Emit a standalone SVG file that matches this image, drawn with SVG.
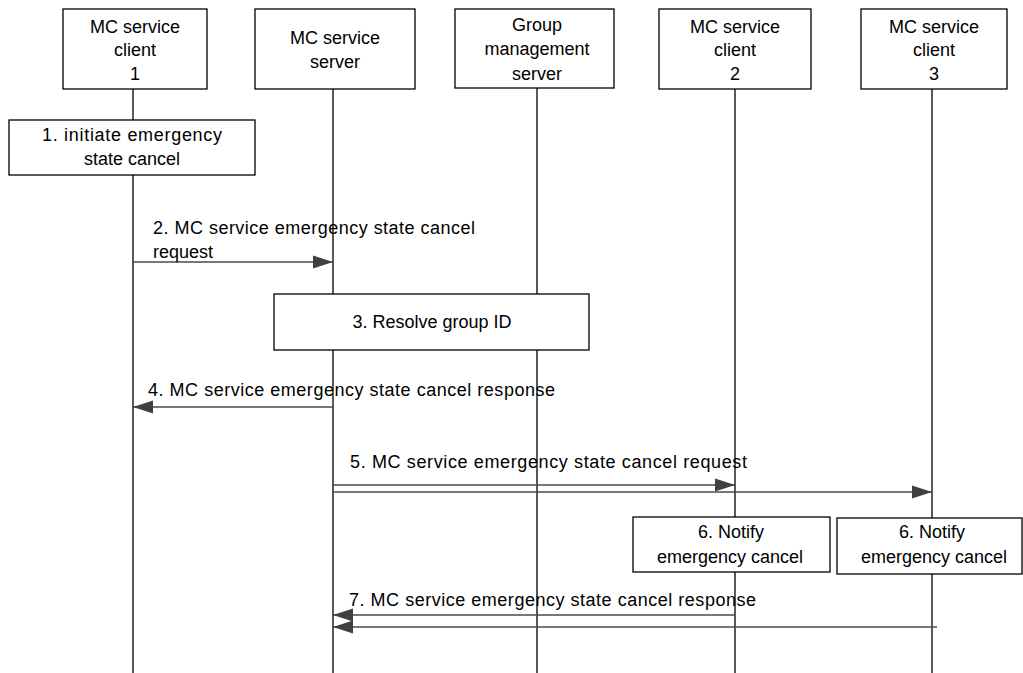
<svg xmlns="http://www.w3.org/2000/svg" width="1023" height="673" viewBox="0 0 1023 673">
<style>
.box{fill:#fff;stroke:#000;stroke-width:1.3}
.life{stroke:#000;stroke-width:1.3;fill:none}
.msg{stroke:#4a4a4a;stroke-width:1.4;fill:none}
.t{font-family:"Liberation Sans",Arial,sans-serif;font-size:18px;fill:#000}
.c{text-anchor:middle}
</style>
<defs>
<marker id="ah" markerUnits="userSpaceOnUse" markerWidth="21" markerHeight="14" refX="20" refY="7" orient="auto">
<path d="M0,0.5 L20,7 L0,13.5 z" fill="#404040"/>
</marker>
</defs>
<rect width="1023" height="673" fill="#fff"/>
<g id="lifelines">
<line class="life" x1="133" y1="89" x2="133" y2="673"/>
<line class="life" x1="333" y1="89" x2="333" y2="673"/>
<line class="life" x1="537" y1="88" x2="537" y2="673"/>
<line class="life" x1="735" y1="89" x2="735" y2="673"/>
<line class="life" x1="932" y1="89" x2="932" y2="673"/>
</g>
<g id="client1">
<rect class="box" x="63" y="9" width="144" height="80"/>
<text class="t c" x="135" y="33">MC service</text>
<text class="t c" x="135" y="56">client</text>
<text class="t c" x="135" y="80">1</text>
</g>
<g id="server">
<rect class="box" x="255" y="9" width="160" height="80"/>
<text class="t c" x="335" y="44">MC service</text>
<text class="t c" x="335" y="68">server</text>
</g>
<g id="gms">
<rect class="box" x="455" y="9" width="159" height="79"/>
<text class="t c" x="537" y="31">Group</text>
<text class="t c" x="537" y="55">management</text>
<text class="t c" x="537" y="80">server</text>
</g>
<g id="client2">
<rect class="box" x="659" y="9" width="152" height="80"/>
<text class="t c" x="735" y="33">MC service</text>
<text class="t c" x="735" y="56">client</text>
<text class="t c" x="735" y="80">2</text>
</g>
<g id="client3">
<rect class="box" x="861" y="9" width="146" height="80"/>
<text class="t c" x="934" y="33">MC service</text>
<text class="t c" x="934" y="56">client</text>
<text class="t c" x="934" y="80">3</text>
</g>
<g id="step1">
<rect class="box" x="9" y="120" width="246" height="55"/>
<text class="t c" x="132" y="141" textLength="180">1. initiate emergency</text>
<text class="t c" x="132" y="165">state cancel</text>
</g>
<g id="step3">
<rect class="box" x="274" y="294" width="315" height="56"/>
<text class="t c" x="432" y="328">3. Resolve group ID</text>
</g>
<g id="step6a">
<rect class="box" x="633" y="517" width="197" height="55"/>
<text class="t c" x="731" y="538">6. Notify</text>
<text class="t c" x="730" y="563">emergency cancel</text>
</g>
<g id="step6b">
<rect class="box" x="837" y="518" width="185" height="56"/>
<text class="t c" x="932" y="538">6. Notify</text>
<text class="t c" x="934" y="563">emergency cancel</text>
</g>
<g id="connectors">
<line class="msg" x1="133" y1="262" x2="333" y2="262" marker-end="url(#ah)"/>
<line class="msg" x1="333" y1="407" x2="133" y2="407" marker-end="url(#ah)"/>
<line class="msg" x1="333" y1="485" x2="735" y2="485" marker-end="url(#ah)"/>
<line class="msg" x1="333" y1="492" x2="932" y2="492" marker-end="url(#ah)"/>
<line class="msg" x1="735" y1="615" x2="333" y2="615" marker-end="url(#ah)"/>
<line class="msg" x1="937" y1="627" x2="333" y2="627" marker-end="url(#ah)"/>
</g>
<g id="labels">
<text class="t" x="153" y="234" textLength="322">2. MC service emergency state cancel</text>
<text class="t" x="153" y="258">request</text>
<text class="t" x="148" y="396" textLength="407">4. MC service emergency state cancel response</text>
<text class="t" x="350" y="468" textLength="397">5. MC service emergency state cancel request</text>
<text class="t" x="349" y="606" textLength="407">7. MC service emergency state cancel response</text>
</g>
</svg>
